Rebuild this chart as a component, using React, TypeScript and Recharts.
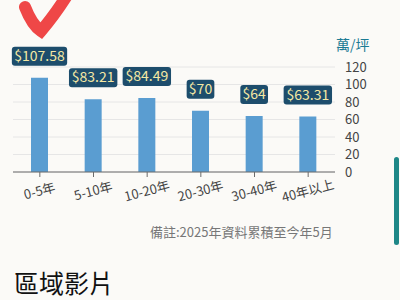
import { Bar, BarChart, CartesianGrid, LabelList, XAxis, YAxis } from "recharts";

const categories = ["0-5年", "5-10年", "10-20年", "20-30年", "30-40年", "40年以上"];
const prices = [107.58, 83.21, 84.49, 70, 64, 63.31];
const yTicks = [0, 20, 40, 60, 80, 100, 120];

const UNIT = "萬/坪";
const NOTE = "備註:2025年資料累積至今年5月";
const HEADING = "區域影片";

const BAR_COLOR = "#5a9dd1";
const LABEL_BG = "#1d4d6c";
const LABEL_TEXT = "#f4e8a4";
const BG = "#fbfaf7";
const FONT = '"Noto Sans CJK TC", "Noto Sans", sans-serif';

const data = categories.map((c, i) => ({ name: c, price: prices[i] }));

function PriceLabel(props: any) {
  const { x, y, width, value } = props;
  const text = "$" + value;
  const w = text.length * 6.9 + 7;
  const h = 19;
  const cx = x + width / 2;
  const bottom = y - 12;
  return (
    <g>
      <rect x={cx - w / 2} y={bottom - h} width={w} height={h} rx={3} fill={LABEL_BG} />
      <text
        x={cx}
        y={bottom - h / 2 + 1}
        textAnchor="middle"
        dominantBaseline="middle"
        fontSize={14}
        fill={LABEL_TEXT}
        fontFamily={FONT}
      >
        {text}
      </text>
    </g>
  );
}

function XTick(props: any) {
  const { x, y, payload } = props;
  return (
    <g transform={`translate(${x},${y + 13}) rotate(-15)`}>
      <text textAnchor="middle" dominantBaseline="middle" fontSize={13} fill="#444" fontFamily={FONT}>
        {payload.value}
      </text>
    </g>
  );
}

export default function App() {
  return (
    <div
      style={{
        position: "absolute",
        left: 0,
        top: 0,
        width: 400,
        height: 300,
        background: BG,
        overflow: "hidden",
        fontFamily: FONT,
      }}
    >
      {/* red hand-drawn mark */}
      <svg width={80} height={45} style={{ position: "absolute", left: 0, top: 0 }}>
        <path
          d="M 25 7 Q 32 25 41 31 Q 54 16 68 -6"
          stroke="#ef4747"
          strokeWidth={12}
          strokeLinecap="round"
          fill="none"
        />
      </svg>

      <div style={{ position: "absolute", left: 336, top: 34, fontSize: 14, color: "#1b7b94" }}>{UNIT}</div>

      <div style={{ position: "absolute", left: 0, top: 0 }}>
        <BarChart width={400} height={215} data={data} margin={{ top: 67, right: 0, bottom: 15, left: 13 }}>
          <CartesianGrid vertical={false} stroke="#e6e6e6" />
          <XAxis
            dataKey="name"
            height={28}
            interval={0}
            tick={<XTick />}
            tickSize={5}
            axisLine={{ stroke: "#6b6b6b" }}
            tickLine={{ stroke: "#6b6b6b" }}
          />
          <YAxis
            orientation="right"
            width={65}
            domain={[0, 120]}
            ticks={yTicks}
            interval={0}
            axisLine={false}
            tickLine={false}
            tickMargin={4}
            tick={{ fontSize: 13, fill: "#444", fontFamily: FONT, textAnchor: "start" }}
          />
          <Bar dataKey="price" fill={BAR_COLOR} barSize={17} isAnimationActive={false}>
            <LabelList dataKey="price" content={<PriceLabel />} />
          </Bar>
        </BarChart>
      </div>

      <div style={{ position: "absolute", left: 150, top: 222, fontSize: 13, color: "#777" }}>{NOTE}</div>

      <div style={{ position: "absolute", left: 14, top: 264, fontSize: 25, color: "#111" }}>{HEADING}</div>

      <div
        style={{
          position: "absolute",
          left: 394,
          top: 157,
          width: 5,
          height: 88,
          borderRadius: 3,
          background: "#1e8787",
        }}
      />
    </div>
  );
}
